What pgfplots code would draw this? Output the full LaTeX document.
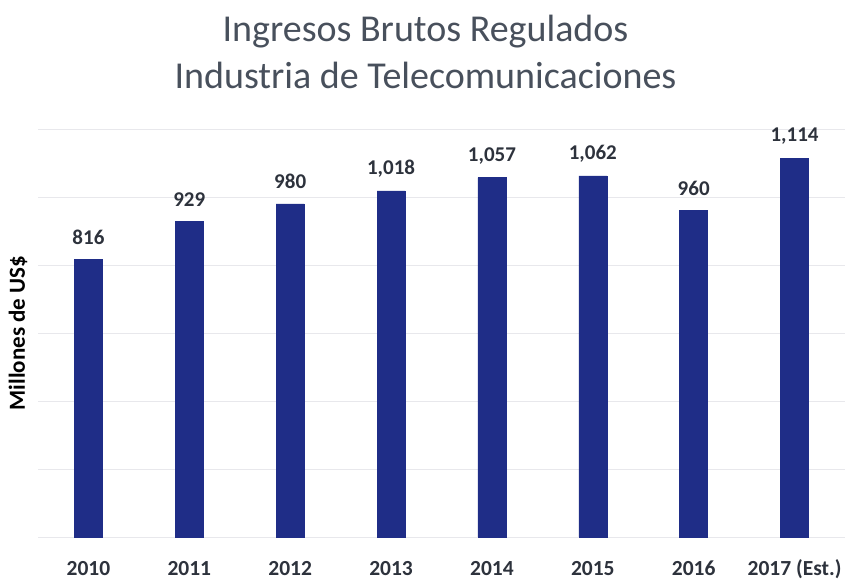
\documentclass[border=0pt]{standalone}
\usepackage{pgfplots}
\pgfplotsset{compat=1.18}
\usepackage{fontspec}
\setmainfont{Carlito}
\definecolor{barblue}{RGB}{31,45,135}
\definecolor{titlegray}{RGB}{72,80,92}
\definecolor{labgray}{RGB}{45,50,60}
\definecolor{gridgray}{RGB}{232,232,236}
\begin{document}
\begin{tikzpicture}
\begin{axis}[
  scale only axis,
  width=807pt, height=408pt,
  xmin=-0.5, xmax=7.5,
  ymin=0, ymax=1200,
  ybar, bar width=28pt,
  xtick=data,
  xticklabels={2010,2011,2012,2013,2014,2015,2016,2017 (Est.)},
  ytick={0,200,...,1200},
  yticklabels={},
  ymajorgrids, grid style={gridgray, line width=0.8pt},
  major tick length=0pt,
  axis line style={draw=none},
  xticklabel style={font=\bfseries\fontsize{21.5}{24}\selectfont, text=labgray, anchor=base, yshift=-38pt},
  ylabel={Millones de US\$},
  ylabel style={font=\bfseries\fontsize{23}{26}\selectfont, text=black, at={(rel axis cs:0,0.5)}, anchor=center, yshift=20pt},
  /pgf/number format/assume math mode=true,
  /pgf/number format/1000 sep={,},
  nodes near coords,
  nodes near coords style={font=\bfseries\fontsize{21}{23}\selectfont, text=labgray, anchor=center, yshift=22pt},
  title={Ingresos Brutos Regulados\\Industria de Telecomunicaciones},
  title style={align=center, font=\fontsize{38}{47}\selectfont, text=titlegray, at={(0.5,1)}, anchor=south, xshift=-16pt, yshift=31pt},
  clip=false,
]
\addplot[fill=barblue, draw=barblue] coordinates {(0,816) (1,929) (2,980) (3,1018) (4,1057) (5,1062) (6,960) (7,1114)};
\end{axis}
\pgfresetboundingbox
\path (-38pt,-51pt) rectangle (807pt,537pt);
\end{tikzpicture}
\end{document}
